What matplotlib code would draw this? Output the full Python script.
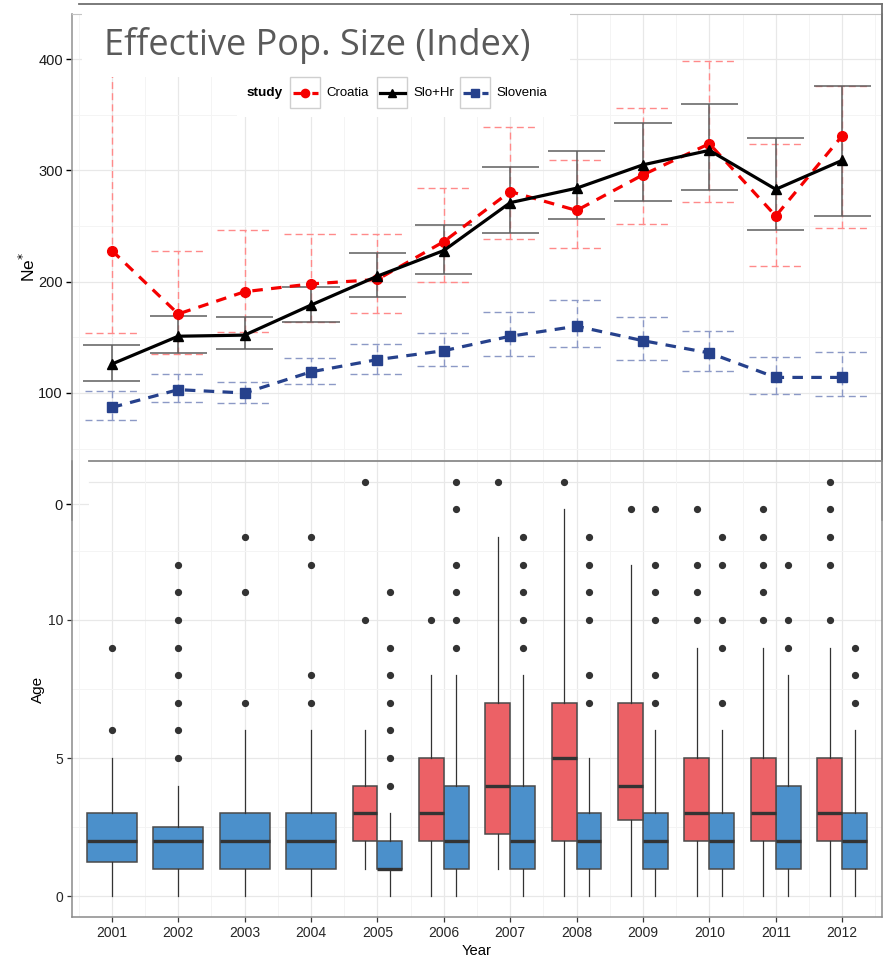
import numpy as np
import matplotlib.pyplot as plt
from matplotlib.patches import Rectangle
from matplotlib.lines import Line2D

W, H = 885, 965

years = [2001, 2002, 2003, 2004, 2005, 2006, 2007, 2008, 2009, 2010, 2011, 2012]

# Ne* estimates with lower / upper interval per study
croatia_ne = [228, 171, 191, 198, 202, 236, 281, 264, 296, 324, 259, 331]
croatia_lo = [154, 135, 155, 164, 172, 200, 238, 230, 252, 272, 214, 248]
croatia_hi = [430, 228, 246, 243, 243, 284, 339, 309, 356, 398, 324, 376]

slohr_ne = [126, 151, 152, 179, 205, 228, 271, 284, 305, 318, 283, 309]
slohr_lo = [111, 136, 139.5, 163.5, 186.5, 206.5, 243.5, 256, 272.5, 282, 246.5, 259]
slohr_hi = [143, 169.5, 168, 195.5, 226, 251, 303, 317, 343, 360, 329, 376]

slovenia_ne = [87, 103, 100, 119, 130, 138, 151, 160, 147, 136, 114, 114]
slovenia_lo = [76, 91.5, 91, 108, 117, 124, 133, 141, 130, 120, 99, 97]
slovenia_hi = [101.5, 117, 110, 131, 144, 154, 173, 184, 168, 156, 132, 137]

# age distribution per year (box statistics)
slo_q1 = [1.25, 1, 1, 1, 1, 1, 1, 1, 1, 1, 1, 1]
slo_med = [2, 2, 2, 2, 1, 2, 2, 2, 2, 2, 2, 2]
slo_q3 = [3, 2.5, 3, 3, 2, 4, 4, 3, 3, 3, 4, 3]
slo_whislo = [0, 0, 0, 0, 0, 0, 0, 0, 0, 0, 0, 0]
slo_whishi = [5, 4, 6, 6, 3, 8, 8, 5, 6, 6, 8, 6]
slo_out = [[6, 9], [5, 6, 7, 8, 9, 10, 11, 12], [7, 11, 13], [7, 8, 12, 13],
           [4, 5, 6, 7, 8, 9, 11], [9, 10, 11, 12, 14, 15], [9, 10, 11, 12, 13],
           [7, 8, 10, 11, 12, 13], [7, 8, 10, 11, 12, 14], [7, 9, 10, 12, 13],
           [9, 10, 12], [7, 8, 9]]

cro_years = [2005, 2006, 2007, 2008, 2009, 2010, 2011, 2012]
cro_q1 = [2, 2, 2.25, 2, 2.75, 2, 2, 2]
cro_med = [3, 3, 4, 5, 4, 3, 3, 3]
cro_q3 = [4, 5, 7, 7, 7, 5, 5, 5]
cro_whislo = [1, 0, 1, 0, 0, 0, 0, 0]
cro_whishi = [6, 8, 13, 14, 12, 9, 9, 9]
cro_out = [[10, 15], [10], [15], [15], [14], [10, 11, 12, 14],
           [10, 11, 12, 13, 14], [10, 12, 13, 14, 15]]

plt.rcParams['font.family'] = ['Liberation Sans', 'DejaVu Sans']


def fx(x):
    return x / W


def fy(y):
    return 1 - y / H


fig = plt.figure(figsize=(W / 100, H / 100), dpi=100)
xpos = np.arange(1, len(years) + 1)

# ---- top panel: effective population size ----
ax = fig.add_axes([fx(72), fy(520), (882 - 72) / W, (520 - 14) / H], zorder=0)

series = [
    ('Croatia', croatia_ne, croatia_lo, croatia_hi,
     dict(color='#F50000', ls=(0, (3.3, 2.6)), marker='o', ms=7),
     dict(colors='#FF8A8A', linestyles=(0, (5, 3)), lw=1.0), 0.82),
    ('Slo+Hr', slohr_ne, slohr_lo, slohr_hi,
     dict(color='black', ls='-', marker='^', ms=7.5),
     dict(colors='#5E5E5E', linestyles='-', lw=1.1), 0.86),
    ('Slovenia', slovenia_ne, slovenia_lo, slovenia_hi,
     dict(color='#26418C', ls=(0, (3.3, 2.6)), marker='s', ms=6.5),
     dict(colors='#8C99C6', linestyles=(0, (5, 3)), lw=1.0), 0.82),
]

for name, ne, lo, hi, line_kw, err_kw, cap_w in series:
    ax.vlines(xpos, lo, hi, zorder=2, **err_kw)
    ax.hlines(lo, xpos - cap_w / 2, xpos + cap_w / 2, zorder=2, **err_kw)
    ax.hlines(hi, xpos - cap_w / 2, xpos + cap_w / 2, zorder=2, **err_kw)

for name, ne, lo, hi, line_kw, err_kw, cap_w in series:
    ax.plot(xpos, ne, lw=2.3, zorder=3, label=name, **line_kw)

ax.set_xlim(0.4, 12.6)
ax.set_ylim(-14.1, 440.5)
ax.set_xticks(xpos)
ax.set_xticks(np.arange(0.5, 13, 1), minor=True)
ax.set_yticks([0, 100, 200, 300, 400])
ax.set_yticks([50, 150, 250, 350], minor=True)
ax.tick_params(axis='x', which='both', length=0, labelbottom=False)
ax.tick_params(axis='y', which='major', length=4.5, width=1, color='black',
               labelsize=10.5, labelcolor='#1a1a1a', pad=2)
ax.tick_params(axis='y', which='minor', length=0)
ax.grid(which='major', color='#E8E8E8', lw=0.9)
ax.grid(which='minor', color='#F4F4F4', lw=0.7)
ax.set_axisbelow(True)
ax.set_ylabel('Ne$^{*}$', fontsize=12.5, labelpad=0)
for side in ['left', 'right']:
    ax.spines[side].set_color('#9a9a9a')
    ax.spines[side].set_linewidth(1.2)
ax.spines['top'].set_color('#c4c4c4')
ax.spines['bottom'].set_visible(False)

# title box and legend box laid over the panel
fig.add_artist(Rectangle((fx(82), fy(77)), (570 - 82) / W, (77 - 6) / H,
                         transform=fig.transFigure, facecolor='white',
                         edgecolor='none', zorder=3))
fig.add_artist(Rectangle((fx(237), fy(117)), (570 - 237) / W, (117 - 70) / H,
                         transform=fig.transFigure, facecolor='white',
                         edgecolor='none', zorder=3))
fig.text(fx(104), fy(55), 'Effective Pop. Size (Index)', fontsize=26,
         family=['Open Sans', 'DejaVu Sans'], fontweight='normal',
         color='#5a5a5a', va='baseline', ha='left', zorder=5)

fig.text(fx(247), fy(93), 'study', fontsize=9.7, fontweight='bold',
         va='center', ha='left', zorder=5)
key_left = [290, 377, 460]
for (name, ne, lo, hi, line_kw, err_kw, cap_w), kx in zip(series, key_left):
    fig.add_artist(Rectangle((fx(kx), fy(108)), 30 / W, 31 / H,
                             transform=fig.transFigure, facecolor='white',
                             edgecolor='#cfcfcf', lw=1, zorder=4))
    kw = dict(line_kw)
    kw.pop('marker')
    ms = kw.pop('ms')
    fig.add_artist(Line2D([fx(kx + 3), fx(kx + 28)], [fy(92.5), fy(92.5)],
                          transform=fig.transFigure, lw=2.3, zorder=5, **kw))
    fig.add_artist(Line2D([fx(kx + 15)], [fy(92.5)], transform=fig.transFigure,
                          marker=line_kw['marker'], ms=ms * 0.85,
                          color=line_kw['color'], ls='none', zorder=5))
    fig.text(fx(kx + 36), fy(93), name, fontsize=9.5, va='center',
             ha='left', zorder=5)

# outer frame lines
fig.add_artist(Line2D([fx(79), fx(882)], [fy(4), fy(4)],
                      transform=fig.transFigure, color='#707070', lw=1.3, zorder=5))
fig.add_artist(Line2D([fx(882), fx(882)], [fy(4), fy(461)],
                      transform=fig.transFigure, color='#707070', lw=1.3, zorder=5))

# white sheet under the age panel
fig.add_artist(Rectangle((fx(89), fy(521)), (881 - 89) / W, (521 - 461) / H,
                         transform=fig.transFigure, facecolor='white',
                         edgecolor='none', zorder=1))
fig.add_artist(Line2D([fx(89), fx(882)], [fy(461), fy(461)],
                      transform=fig.transFigure, color='#8a8a8a', lw=1.3, zorder=5))

# ---- bottom panel: age boxplots ----
ax2 = fig.add_axes([fx(72), fy(917), 810 / W, 456 / H], zorder=2)
ax2.set_facecolor('none')


def box_stats(q1, med, q3, lo, hi, out):
    return [dict(q1=a, med=b, q3=c, whislo=d, whishi=e, fliers=f)
            for a, b, c, d, e, f in zip(q1, med, q3, lo, hi, out)]


slo_stats = box_stats(slo_q1, slo_med, slo_q3, slo_whislo, slo_whishi, slo_out)
cro_stats = box_stats(cro_q1, cro_med, cro_q3, cro_whislo, cro_whishi, cro_out)

dodge = 0.1875
slo_pos = [p + (dodge if y in cro_years else 0) for p, y in zip(xpos, years)]
slo_w = [0.375 if y in cro_years else 0.75 for y in years]
cro_pos = [years.index(y) + 1 - dodge for y in cro_years]

box_common = dict(
    patch_artist=True, showcaps=False,
    whiskerprops=dict(color='#333333', lw=0.9),
    medianprops=dict(color='#333333', lw=2.4, solid_capstyle='butt'),
    flierprops=dict(marker='o', markerfacecolor='#333333', markeredgecolor='#333333',
                    markersize=4.2, ls='none'),
)
for stats, pos, widths, col in [(slo_stats, slo_pos, slo_w, '#4B90CB'),
                                (cro_stats, cro_pos, [0.375] * len(cro_pos), '#EC6166')]:
    ax2.bxp(stats, positions=pos, widths=widths,
            boxprops=dict(facecolor=col, edgecolor='#4a4a4a', lw=1.1),
            **box_common)

ax2.set_xlim(0.4, 12.6)
ax2.set_ylim(-0.75, 15.75)
ax2.set_xticks(xpos)
ax2.set_xticklabels([str(y) for y in years])
ax2.set_xticks(np.arange(0.5, 13, 1), minor=True)
ax2.set_yticks([0, 5, 10])
ax2.set_yticks([2.5, 7.5, 12.5], minor=True)
ax2.tick_params(which='major', length=3.5, width=0.9, color='#333333',
                labelsize=10, labelcolor='#262626', pad=3)
ax2.tick_params(which='minor', length=0)
ax2.grid(which='major', color='#E8E8E8', lw=0.9)
ax2.grid(which='minor', color='#F4F4F4', lw=0.7)
ax2.axhline(15, xmin=17 / 810, color='#E8E8E8', lw=0.9, zorder=0.5)
ax2.set_axisbelow(True)
ax2.set_ylabel('Age', fontsize=11, labelpad=2)
ax2.set_xlabel('Year', fontsize=10.6, labelpad=3)
ax2.spines['top'].set_visible(False)
for side in ['left', 'right', 'bottom']:
    ax2.spines[side].set_color('#8a8a8a')
    ax2.spines[side].set_linewidth(1.1)

fig.savefig('out.png', dpi=100)
